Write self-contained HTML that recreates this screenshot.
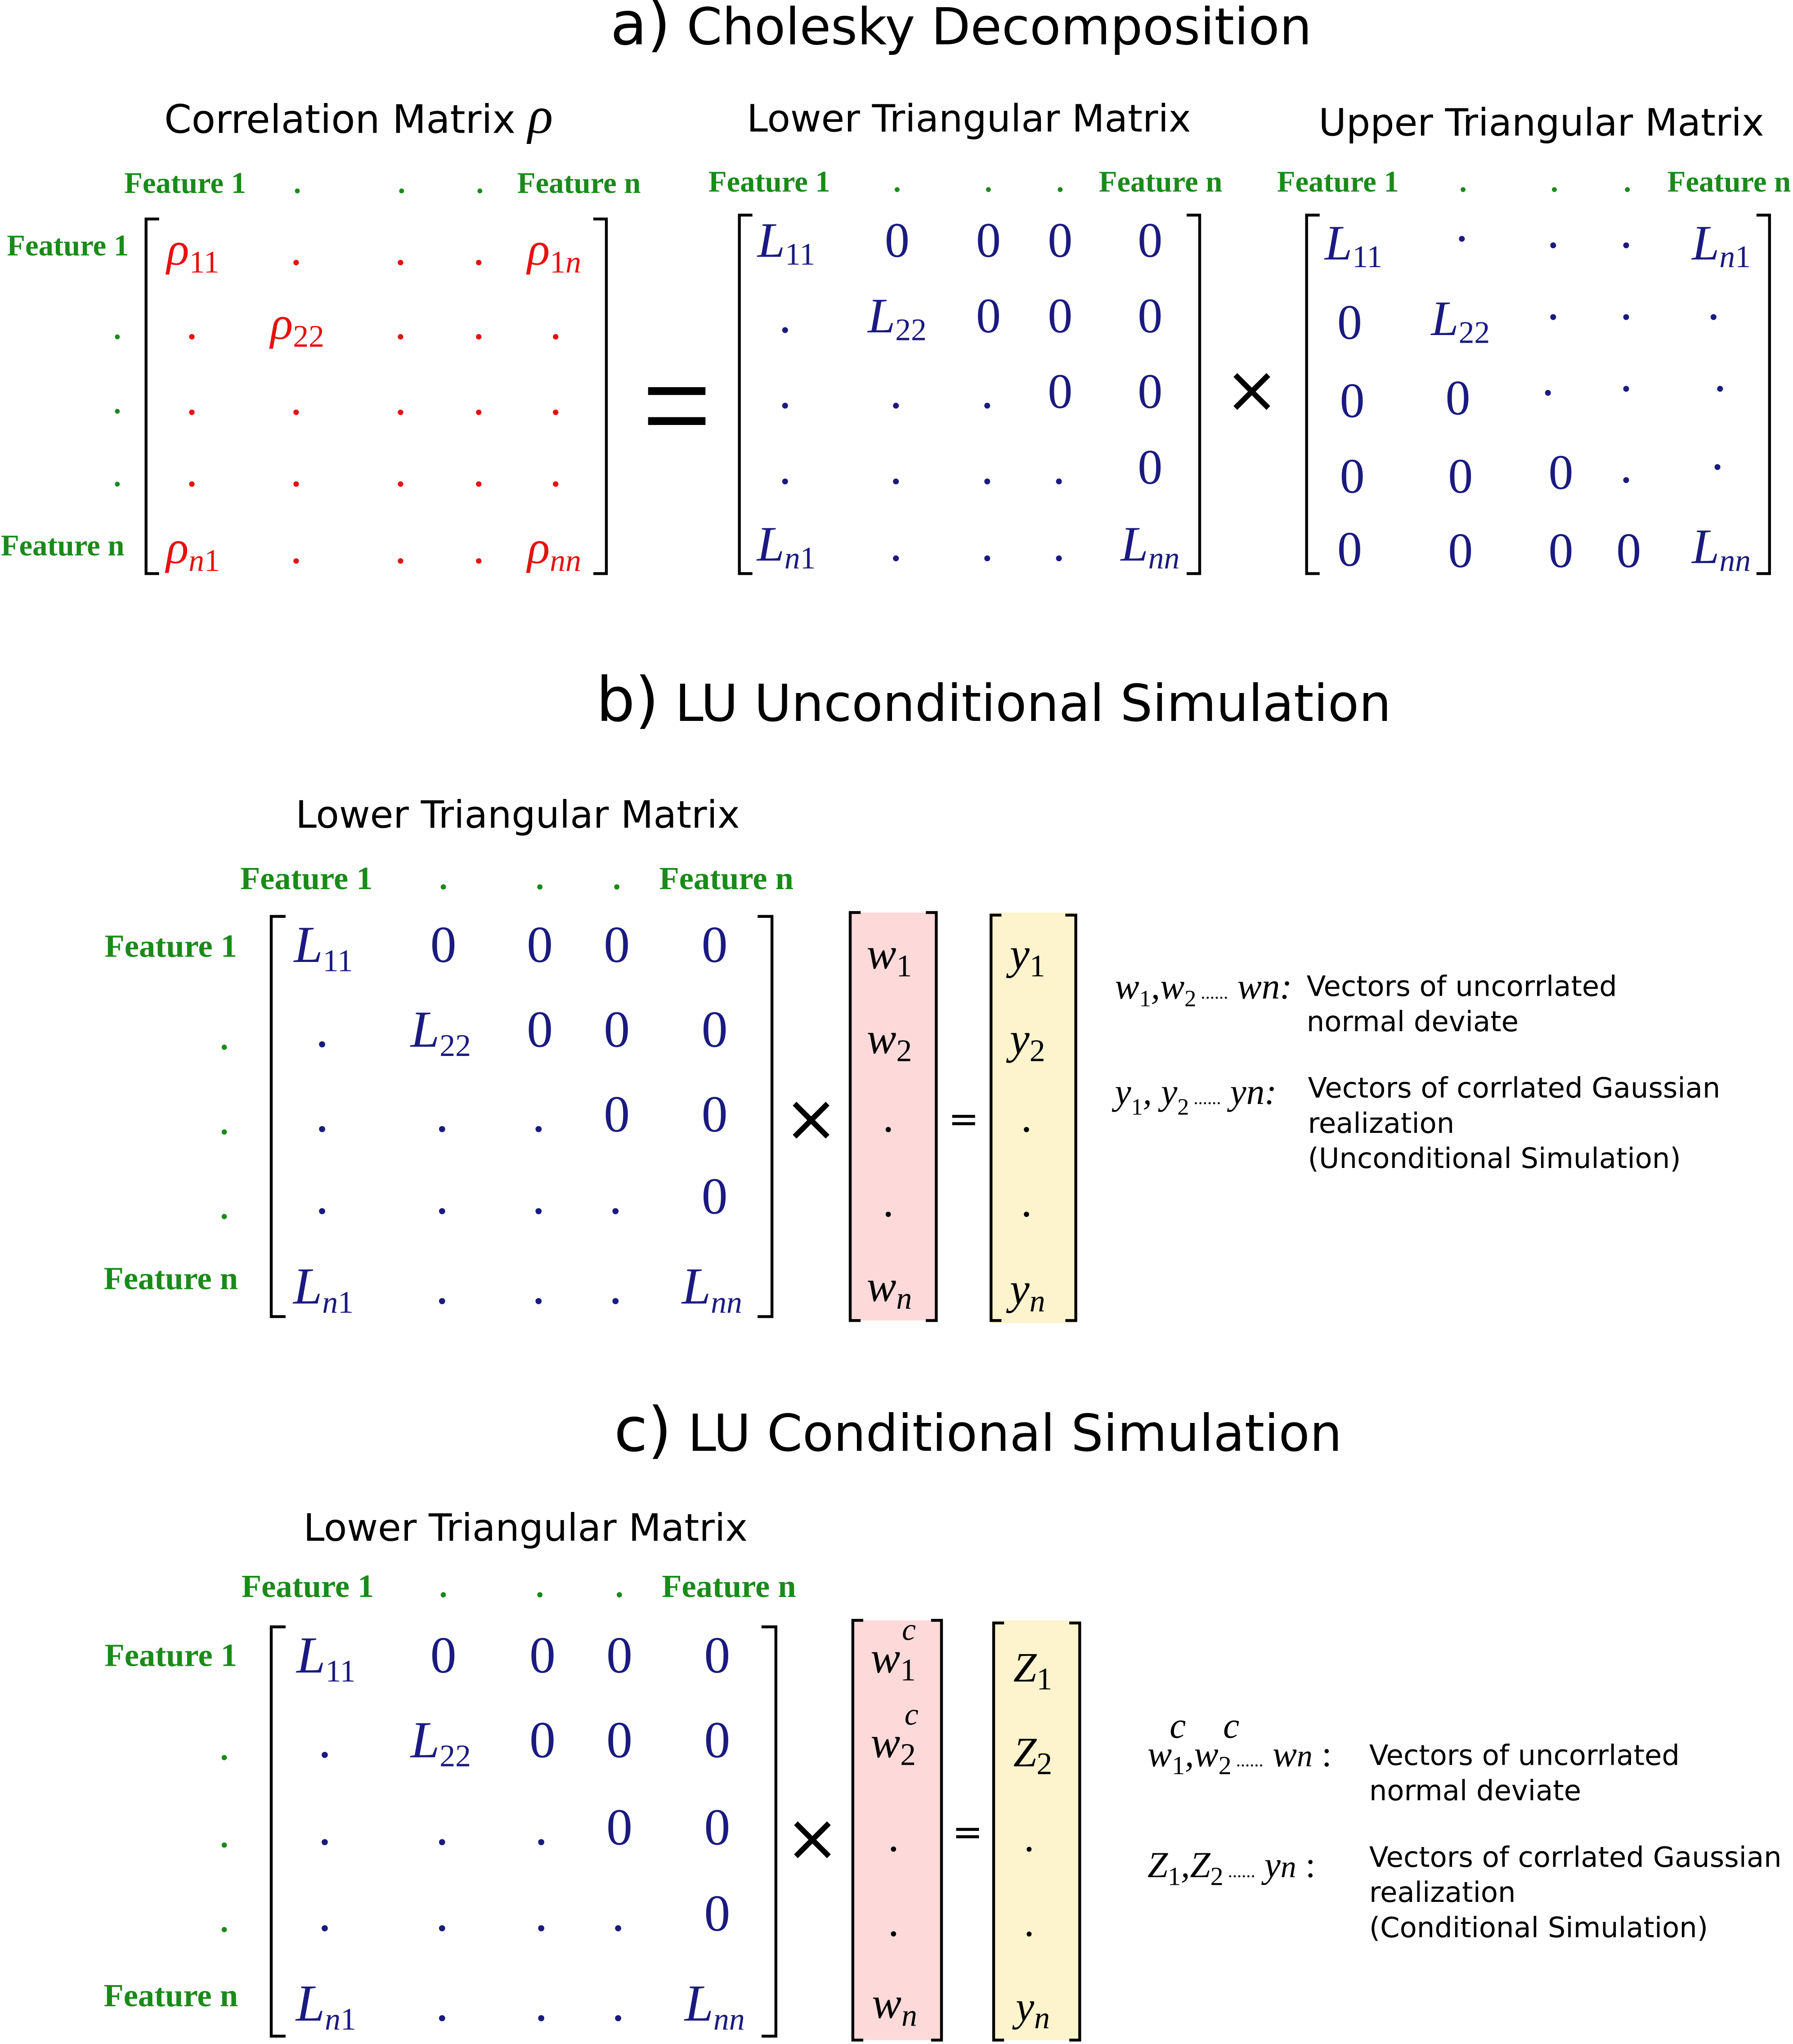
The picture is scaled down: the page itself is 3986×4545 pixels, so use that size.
<!DOCTYPE html>
<html><head><meta charset="utf-8"><style>
html,body{margin:0;padding:0;background:#fff;width:3986px;height:4545px;overflow:hidden}
svg{display:block}
.t{font-family:"DejaVu Sans","Liberation Sans",sans-serif;fill:#000}
.g{font-family:"Liberation Serif",serif;font-weight:bold;fill:#1a8a1a;font-size:23px;text-anchor:middle}
.r{font-family:"Liberation Serif",serif;font-style:italic;fill:#e81010;font-size:36px;text-anchor:middle}
.b{font-family:"Liberation Serif",serif;font-style:italic;fill:#1a1a80;font-size:38px;text-anchor:middle}
.z{font-style:normal}
.s{font-style:normal;font-size:24px}
.i{font-style:italic}
.l{font-family:"Liberation Serif",serif;font-style:italic;fill:#000;font-size:28px}
.d{font-family:"DejaVu Sans","Liberation Sans",sans-serif;fill:#000;font-size:21.5px}
.br{fill:none;stroke:#000;stroke-width:2.2}
</style></head><body>
<svg width="3986" height="4545" viewBox="0 0 1375 1568" preserveAspectRatio="none" xmlns="http://www.w3.org/2000/svg">
<!-- a -->
<text class="t" x="737" y="34" font-size="39" text-anchor="middle"><tspan font-size="46">a)</tspan> Cholesky Decomposition</text>
<text class="t" x="275" y="102" font-size="30" text-anchor="middle">Correlation Matrix <tspan font-family="Liberation Serif" font-style="italic" font-size="40">ρ</tspan></text>
<text class="t" x="743" y="101" font-size="29" text-anchor="middle">Lower Triangular Matrix</text>
<text class="t" x="1182" y="104" font-size="29" text-anchor="middle">Upper Triangular Matrix</text>
<g class="g">
<text x="142" y="148">Feature 1</text><text x="228" y="148">.</text><text x="308" y="148">.</text><text x="368" y="148">.</text><text x="444" y="148">Feature n</text>
<text x="52" y="196">Feature 1</text><text x="90" y="260">.</text><text x="90" y="317">.</text><text x="90" y="373">.</text><text x="48" y="426">Feature n</text>
<text x="590" y="147">Feature 1</text><text x="688" y="147">.</text><text x="758" y="147">.</text><text x="813" y="147">.</text><text x="890" y="147">Feature n</text>
<text x="1026" y="147">Feature 1</text><text x="1122" y="147">.</text><text x="1192" y="147">.</text><text x="1248" y="147">.</text><text x="1326" y="147">Feature n</text>
</g>
<path class="br" d="M122,168H112V440H122M455,168H465V440H455"/>
<g class="r">
<text x="148" y="203">ρ<tspan class="s" dy="6">11</tspan></text><text x="228" y="203">.</text><text x="308" y="203">.</text><text x="368" y="203">.</text><text x="425" y="203">ρ<tspan class="s" dy="6">1<tspan font-style="italic">n</tspan></tspan></text>
<text x="148" y="260">.</text><text x="228" y="260">ρ<tspan class="s" dy="6">22</tspan></text><text x="308" y="260">.</text><text x="368" y="260">.</text><text x="427" y="260">.</text>
<text x="148" y="318">.</text><text x="228" y="318">.</text><text x="308" y="318">.</text><text x="368" y="318">.</text><text x="427" y="318">.</text>
<text x="148" y="373">.</text><text x="228" y="373">.</text><text x="308" y="373">.</text><text x="368" y="373">.</text><text x="427" y="373">.</text>
<text x="148" y="432"><tspan>ρ</tspan><tspan class="s i" dy="6">n</tspan><tspan class="s">1</tspan></text><text x="228" y="432">.</text><text x="308" y="432">.</text><text x="368" y="432">.</text><text x="425" y="432">ρ<tspan class="s i" dy="6">nn</tspan></text>
</g>
<rect x="497" y="297" width="44" height="6" fill="#000"/><rect x="497" y="320" width="44" height="6" fill="#000"/>
<path class="br" d="M577,165H567V440H577M910,165H920V440H910"/>
<g class="b">
<text x="603" y="197">L<tspan class="s" dy="6">11</tspan></text><text class="z" x="688" y="197">0</text><text class="z" x="758" y="197">0</text><text class="z" x="813" y="197">0</text><text class="z" x="882" y="197">0</text>
<text x="603" y="255">.</text><text x="688" y="255">L<tspan class="s" dy="6">22</tspan></text><text class="z" x="758" y="255">0</text><text class="z" x="813" y="255">0</text><text class="z" x="882" y="255">0</text>
<text x="603" y="313">.</text><text x="688" y="313">.</text><text x="758" y="313">.</text><text class="z" x="813" y="313">0</text><text class="z" x="882" y="313">0</text>
<text x="603" y="371">.</text><text x="688" y="371">.</text><text x="758" y="371">.</text><text x="813" y="371">.</text><text class="z" x="882" y="371">0</text>
<text x="603" y="430">L<tspan class="s i" dy="6">n</tspan><tspan class="s">1</tspan></text><text x="688" y="430">.</text><text x="758" y="430">.</text><text x="813" y="430">.</text><text x="882" y="430">L<tspan class="s i" dy="6">nn</tspan></text>
</g>
<text class="t" x="960" y="316" font-size="50" text-anchor="middle">×</text>
<path class="br" d="M1012,165H1002V440H1012M1347,165H1357V440H1347"/>
<g class="b">
<text x="1038" y="199">L<tspan class="s" dy="6">11</tspan></text><text x="1122" y="185">.</text><text x="1192" y="190">.</text><text x="1248" y="190">.</text><text x="1320" y="199">L<tspan class="s i" dy="6">n</tspan><tspan class="s">1</tspan></text>
<text class="z" x="1035" y="260">0</text><text x="1120" y="257">L<tspan class="s" dy="6">22</tspan></text><text x="1192" y="245">.</text><text x="1248" y="245">.</text><text x="1315" y="245">.</text>
<text class="z" x="1037" y="320">0</text><text class="z" x="1118" y="318">0</text><text x="1188" y="303">.</text><text x="1248" y="300">.</text><text x="1320" y="300">.</text>
<text class="z" x="1037" y="378">0</text><text class="z" x="1120" y="378">0</text><text class="z" x="1197" y="375">0</text><text x="1248" y="370">.</text><text x="1318" y="360">.</text>
<text class="z" x="1035" y="434">0</text><text class="z" x="1120" y="435">0</text><text class="z" x="1197" y="435">0</text><text class="z" x="1249" y="435">0</text><text x="1320" y="432">L<tspan class="s i" dy="6">nn</tspan></text>
</g>
<!-- b -->
<text class="t" x="762" y="553" font-size="39" text-anchor="middle"><tspan font-size="47">b)</tspan> LU Unconditional Simulation</text>
<text class="t" x="397" y="635" font-size="29" text-anchor="middle">Lower Triangular Matrix</text>
<g class="g" style="font-size:25px">
<text x="235" y="682">Feature 1</text><text x="340" y="682">.</text><text x="414" y="682">.</text><text x="473" y="682">.</text><text x="557" y="682">Feature n</text>
<text x="131" y="734">Feature 1</text><text x="172" y="805">.</text><text x="172" y="870">.</text><text x="172" y="935">.</text><text x="131" y="989">Feature n</text>
</g>
<path class="br" d="M219,703H208V1010H219M581,703H592V1010H581"/>
<g class="b" style="font-size:40px">
<text x="248" y="738">L<tspan class="s" dy="7">11</tspan></text><text class="z" x="340" y="738">0</text><text class="z" x="414" y="738">0</text><text class="z" x="473" y="738">0</text><text class="z" x="548" y="738">0</text>
<text x="248" y="803">.</text><text x="338" y="803">L<tspan class="s" dy="7">22</tspan></text><text class="z" x="414" y="803">0</text><text class="z" x="473" y="803">0</text><text class="z" x="548" y="803">0</text>
<text x="248" y="868">.</text><text x="340" y="868">.</text><text x="414" y="868">.</text><text class="z" x="473" y="868">0</text><text class="z" x="548" y="868">0</text>
<text x="248" y="931">.</text><text x="340" y="931">.</text><text x="414" y="931">.</text><text x="473" y="931">.</text><text class="z" x="548" y="931">0</text>
<text x="248" y="1000">L<tspan class="s i" dy="7">n</tspan><tspan class="s">1</tspan></text><text x="340" y="1000">.</text><text x="414" y="1000">.</text><text x="473" y="1000">.</text><text x="546" y="1000">L<tspan class="s i" dy="7">nn</tspan></text>
</g>
<text class="t" x="622" y="875" font-size="50" text-anchor="middle">×</text>
<rect x="652" y="700" width="66" height="313" fill="#fdd9d9"/>
<path class="br" d="M660,700H652V1013H660M710,700H718V1013H710"/>
<g class="l" text-anchor="middle" style="font-size:34px">
<text x="682" y="743">w<tspan class="s" dy="6">1</tspan></text>
<text x="682" y="808">w<tspan class="s" dy="6">2</tspan></text>
<text x="682" y="868">.</text><text x="682" y="933">.</text>
<text x="682" y="998">w<tspan class="s i" dy="6">n</tspan></text>
</g>
<text class="t" x="739" y="868" font-size="28" text-anchor="middle">=</text>
<rect x="760" y="700" width="65" height="315" fill="#fdf3cc"/>
<path class="br" d="M768,702H760V1013H768M817,702H825V1013H817"/>
<g class="l" text-anchor="middle" style="font-size:34px">
<text x="788" y="743">y<tspan class="s" dy="6">1</tspan></text>
<text x="788" y="808">y<tspan class="s" dy="6">2</tspan></text>
<text x="788" y="868">.</text><text x="788" y="933">.</text>
<text x="788" y="1000">y<tspan class="s i" dy="6">n</tspan></text>
</g>
<text class="l" x="855" y="766">w<tspan font-size="18" dy="6" font-style="normal">1</tspan><tspan dy="-6">,w</tspan><tspan font-size="18" dy="6" font-style="normal">2</tspan><tspan dy="-6" font-size="14" font-style="normal"> ......</tspan><tspan> wn:</tspan></text>
<text class="d" x="1002" y="764">Vectors of uncorrlated</text>
<text class="d" x="1002" y="791">normal deviate</text>
<text class="l" x="855" y="847">y<tspan font-size="18" dy="8" font-style="normal">1</tspan><tspan dy="-8">, y</tspan><tspan font-size="18" dy="8" font-style="normal">2</tspan><tspan dy="-8" font-size="14" font-style="normal"> ......</tspan><tspan> yn:</tspan></text>
<text class="d" x="1003" y="842">Vectors of corrlated Gaussian</text>
<text class="d" x="1003" y="869">realization</text>
<text class="d" x="1003" y="896">(Unconditional Simulation)</text>
<!-- c -->
<text class="t" x="750" y="1113" font-size="39" text-anchor="middle"><tspan font-size="47">c)</tspan> LU Conditional Simulation</text>
<text class="t" x="403" y="1182" font-size="29" text-anchor="middle">Lower Triangular Matrix</text>
<g class="g" style="font-size:25px">
<text x="236" y="1225">Feature 1</text><text x="340" y="1225">.</text><text x="414" y="1225">.</text><text x="475" y="1225">.</text><text x="559" y="1225">Feature n</text>
<text x="131" y="1278">Feature 1</text><text x="172" y="1350">.</text><text x="172" y="1417">.</text><text x="172" y="1482">.</text><text x="131" y="1539">Feature n</text>
</g>
<path class="br" d="M219,1248H208V1562H219M584,1248H595V1562H584"/>
<g class="b" style="font-size:40px">
<text x="250" y="1283">L<tspan class="s" dy="7">11</tspan></text><text class="z" x="340" y="1283">0</text><text class="z" x="416" y="1283">0</text><text class="z" x="475" y="1283">0</text><text class="z" x="550" y="1283">0</text>
<text x="250" y="1348">.</text><text x="338" y="1348">L<tspan class="s" dy="7">22</tspan></text><text class="z" x="416" y="1348">0</text><text class="z" x="475" y="1348">0</text><text class="z" x="550" y="1348">0</text>
<text x="250" y="1415">.</text><text x="340" y="1415">.</text><text x="416" y="1415">.</text><text class="z" x="475" y="1415">0</text><text class="z" x="550" y="1415">0</text>
<text x="250" y="1481">.</text><text x="340" y="1481">.</text><text x="416" y="1481">.</text><text x="475" y="1481">.</text><text class="z" x="550" y="1481">0</text>
<text x="250" y="1550">L<tspan class="s i" dy="7">n</tspan><tspan class="s">1</tspan></text><text x="340" y="1550">.</text><text x="416" y="1550">.</text><text x="475" y="1550">.</text><text x="548" y="1550">L<tspan class="s i" dy="7">nn</tspan></text>
</g>
<text class="t" x="623" y="1427" font-size="50" text-anchor="middle">×</text>
<rect x="654" y="1243" width="68" height="322" fill="#fdd9d9"/>
<path class="br" d="M662,1243H654V1565H662M714,1243H722V1565H714"/>
<g class="l" text-anchor="middle" style="font-size:34px">
<text x="685" y="1283">w<tspan class="s" dy="6">1</tspan></text><text x="697" y="1258" font-size="24">c</text>
<text x="685" y="1348">w<tspan class="s" dy="6">2</tspan></text><text x="699" y="1323" font-size="24">c</text>
<text x="686" y="1420">.</text><text x="686" y="1485">.</text>
<text x="686" y="1548">w<tspan class="s i" dy="6">n</tspan></text>
</g>
<text class="t" x="742" y="1415" font-size="28" text-anchor="middle">=</text>
<rect x="762" y="1243" width="66" height="322" fill="#fdf3cc"/>
<path class="br" d="M770,1245H762V1565H770M820,1245H828V1565H820"/>
<g class="l" text-anchor="middle" style="font-size:32px">
<text x="792" y="1290">Z<tspan class="s" dy="6">1</tspan></text>
<text x="792" y="1355">Z<tspan class="s" dy="6">2</tspan></text>
<text x="790" y="1420">.</text><text x="790" y="1485">.</text>
<text x="792" y="1550">y<tspan class="s i" dy="6">n</tspan></text>
</g>
<text class="l" x="880" y="1355">w<tspan font-size="20" dy="6" font-style="normal">1</tspan><tspan dy="-6">,w</tspan><tspan font-size="20" dy="6" font-style="normal">2</tspan><tspan dy="-6" font-size="14" font-style="normal"> ......</tspan><tspan> w</tspan><tspan font-size="24">n</tspan><tspan font-style="normal"> :</tspan></text>
<text class="l" x="897" y="1333" font-size="22">c</text><text class="l" x="938" y="1333" font-size="22">c</text>
<text class="d" x="1050" y="1354">Vectors of uncorrlated</text>
<text class="d" x="1050" y="1381">normal deviate</text>
<text class="l" x="880" y="1440">Z<tspan font-size="20" dy="6" font-style="normal">1</tspan><tspan dy="-6">,Z</tspan><tspan font-size="20" dy="6" font-style="normal">2</tspan><tspan dy="-6" font-size="14" font-style="normal"> ......</tspan><tspan>  y</tspan><tspan font-size="24">n</tspan><tspan font-style="normal"> :</tspan></text>
<text class="d" x="1050" y="1432">Vectors of corrlated Gaussian</text>
<text class="d" x="1050" y="1459">realization</text>
<text class="d" x="1050" y="1486">(Conditional Simulation)</text>
</svg>
</body></html>
